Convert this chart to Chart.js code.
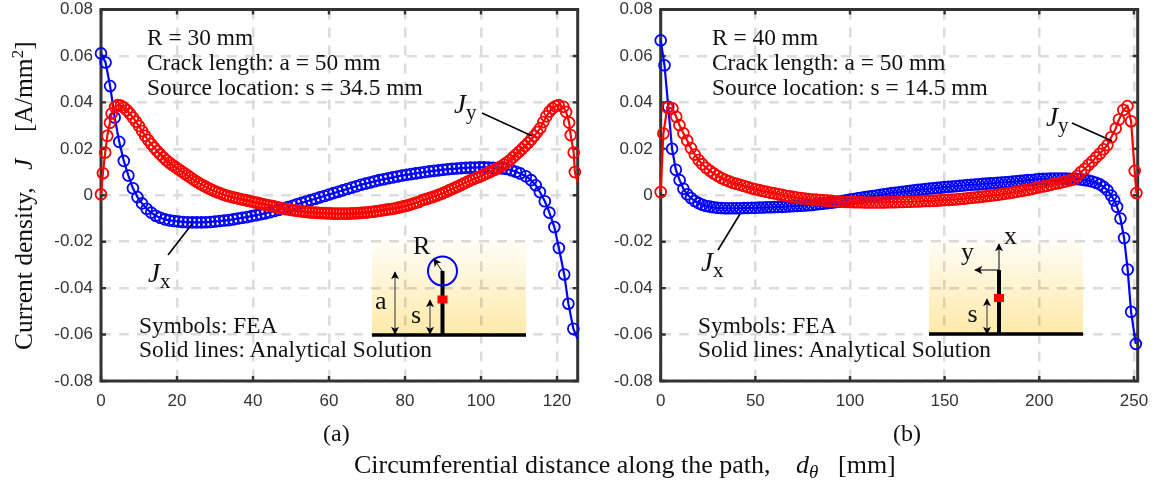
<!DOCTYPE html>
<html><head><meta charset="utf-8">
<script src="https://cdn.jsdelivr.net/npm/chart.js@4"></script>
<style>
html,body{margin:0;padding:0;background:#fff;width:1159px;height:483px;overflow:hidden}
canvas{position:absolute;top:0}
svg{position:absolute;left:0;top:0}
text{font-family:"Liberation Serif",serif;fill:#111}
</style></head><body>
<canvas id="ca" width="600" height="420" style="left:0"></canvas>
<canvas id="cb" width="579" height="420" style="left:580px"></canvas>
<svg width="1159" height="483" style="mix-blend-mode:multiply">
<defs><linearGradient id="g" x1="0" y1="0" x2="0" y2="1"><stop offset="0" stop-color="#fff"/><stop offset="1" stop-color="#fdeaa8"/></linearGradient></defs>
<rect x="372" y="232" width="154" height="103" fill="url(#g)"/>
<rect x="929" y="230" width="154" height="104" fill="url(#g)"/>
</svg>
<svg width="1159" height="483">
<defs>
<marker id="ah" viewBox="0 0 10 10" refX="9" refY="5" markerWidth="8" markerHeight="8" markerUnits="userSpaceOnUse" orient="auto-start-reverse"><path d="M0 0L10 5L0 10L2.5 5z" fill="#000"/></marker>
</defs>
<g font-size="23.4">
<text x="147" y="45">R = 30 mm</text>
<text x="147" y="70">Crack length: a = 50 mm</text>
<text x="147" y="95">Source location: s = 34.5 mm</text>
<text x="139" y="333">Symbols: FEA</text>
<text x="139" y="357">Solid lines: Analytical Solution</text>
<text x="712" y="45">R = 40 mm</text>
<text x="712" y="70">Crack length: a = 50 mm</text>
<text x="712" y="95">Source location: s = 14.5 mm</text>
<text x="698" y="333">Symbols: FEA</text>
<text x="698" y="357">Solid lines: Analytical Solution</text>
</g>
<g font-size="27">
<text x="454" y="113"><tspan font-style="italic">J</tspan><tspan font-size="21" dy="6">y</tspan></text>
<text x="148" y="282"><tspan font-style="italic">J</tspan><tspan font-size="21" dy="6">x</tspan></text>
<text x="701" y="271"><tspan font-style="italic">J</tspan><tspan font-size="21" dy="6">x</tspan></text>
<text x="1046" y="126"><tspan font-style="italic">J</tspan><tspan font-size="21" dy="6">y</tspan></text>
</g>
<g stroke="#000" stroke-width="1.6" fill="none">
<path d="M482 113L532 136"/><path d="M168 255L192 224"/><path d="M718 250L740 214"/><path d="M1072 123L1112 141"/>
</g>
<!-- inset a -->
<path d="M372 335H526" stroke="#000" stroke-width="3.5"/>
<path d="M442.5 335V271" stroke="#000" stroke-width="4"/>
<rect x="437.5" y="295.5" width="10" height="8" fill="#f00"/>
<circle cx="442.5" cy="271" r="14.5" fill="none" stroke="#00f" stroke-width="2"/>
<path d="M442 271L434 259" stroke="#000" stroke-width="1" marker-end="url(#ah)"/>
<path d="M395 272V334" stroke="#333" stroke-width="1" marker-start="url(#ah)" marker-end="url(#ah)"/>
<path d="M430 300V334" stroke="#333" stroke-width="1" marker-start="url(#ah)" marker-end="url(#ah)"/>
<g font-size="26">
<text x="413" y="254">R</text><text x="375" y="309">a</text><text x="411" y="322.5">s</text>
</g>
<!-- inset b -->
<path d="M929 334H1083" stroke="#000" stroke-width="3.5"/>
<path d="M999 334V270" stroke="#000" stroke-width="4"/>
<rect x="994" y="294" width="10" height="8" fill="#f00"/>
<path d="M999 270V244" stroke="#000" stroke-width="1" marker-end="url(#ah)"/>
<path d="M999 270H975" stroke="#000" stroke-width="1" marker-end="url(#ah)"/>
<path d="M987 299V334" stroke="#333" stroke-width="1" marker-start="url(#ah)" marker-end="url(#ah)"/>
<g font-size="26">
<text x="1004" y="244">x</text><text x="961" y="260">y</text><text x="967.5" y="322">s</text>
</g>
<!-- captions -->
<text font-size="24" x="323" y="441">(a)</text><text font-size="24" x="893" y="441">(b)</text>
<g font-size="26">
<text x="354" y="473">Circumferential distance along the path,<tspan x="796" font-style="italic">d</tspan><tspan font-style="italic" font-size="19" dy="5">θ</tspan><tspan x="838" dy="-5">[mm]</tspan></text>
</g>
<g font-size="25.5">
<text transform="translate(32,350) rotate(-90)">Current density,<tspan x="180" font-style="italic">J</tspan><tspan x="218">[A/mm</tspan><tspan font-size="17" dy="-9">2</tspan><tspan dy="9">]</tspan></text>
</g>
</svg>
<script>
// Panel (a): R = 30 mm
const aBlueX = [0,1.2,2.4,3.6,4.8,6,7.2,8.4,9.6,10.8,
 12,13.2,14.4,15.6,16.8,18,19.2,20.4,21.6,22.8,
 24,25.2,26.4,27.6,28.8,30,31.2,32.4,33.6,34.8,
 36,37.2,38.4,39.6,40.8,42,43.2,44.4,45.6,46.8,
 48,49.2,50.4,51.6,52.8,54,55.2,56.4,57.6,58.8,
 60,61.2,62.4,63.6,64.8,66,67.2,68.4,69.6,70.8,
 72,73.2,74.4,75.6,76.8,78,79.2,80.4,81.6,82.8,
 84,85.2,86.4,87.6,88.8,90,91.2,92.4,93.6,94.8,
 96,97.2,98.4,99.6,100.8,102,103.2,104.4,105.6,106.8,
 108,109.2,110.3,111.8,113.2,114.4,115.5,116.8,118,119.3,
 120.5,121.9,123,124.3];
const aBlueY = [.0611,.0572,.0470,.0335,.0230,.0148,.0085,.0030,-.0008,-.0035,
 -.0058,-.0075,-.0088,-.0097,-.0104,-.0108,-.0111,-.0113,-.0115,-.0116,
 -.0117,-.0117,-.0117,-.0116,-.0115,-.0113,-.0111,-.0109,-.0107,-.0104,
 -.0100,-.0097,-.0094,-.0090,-.0086,-.0082,-.0078,-.0073,-.0068,-.0063,
 -.0057,-.0051,-.0045,-.0039,-.0033,-.0027,-.0021,-.0015,-.0009,-.0003,
 .0003,.0009,.0015,.0021,.0027,.0033,.0039,.0045,.0050,.0055,
 .0060,.0065,.0069,.0073,.0077,.0081,.0085,.0088,.0091,.0094,
 .0097,.0100,.0103,.0105,.0107,.0110,.0112,.0114,.0115,.0117,
 .0118,.0119,.0119,.0120,.0120,.0119,.0118,.0117,.0115,.0113,
 .0108,.0101,.0094,.0082,.0065,.0043,.0014,-.0026,-.0075,-.0137,
 -.0227,-.0341,-.0467,-.0575];
const aRedX = [0,.5,1.1,1.65,2.35,2.8,3.7,
 4.4,5.2,6,6.8,7.6,8.4,9.2,10,10.8,11.6,
 12.4,13.2,14,14.8,15.6,16.4,17.2,18,18.8,19.6,
 20.4,21.2,22,22.8,23.6,24.4,25.2,26,26.8,27.6,
 28.4,29.2,30,30.8,31.6,32.4,33.2,34,34.8,35.6,
 36.4,37.2,38,38.8,39.6,40.4,41.2,42,42.8,43.6,
 44.4,45.2,46,46.8,47.6,48.4,49.2,50,50.8,51.6,
 52.4,53.2,54,54.8,55.6,56.4,57.2,58,58.8,59.6,
 60.4,61.2,62,62.8,63.6,64.4,65.2,66,66.8,67.6,
 68.4,69.2,70,70.8,71.6,72.4,73.2,74,74.8,75.6,
 76.4,77.2,78,78.8,79.6,80.4,81.2,82,82.8,83.6,
 84.4,85.2,86,86.8,87.6,88.4,89.2,90,90.8,91.6,
 92.4,93.2,94,94.8,95.6,96.4,97.2,98,98.8,99.6,
 100.4,101.2,102,102.8,103.6,104.4,105.2,106,106.8,107.6,
 108.4,109.2,110,110.8,111.6,112.4,113.2,114,114.8,115.6,
 116.4,117.2,118,118.8,119.6,120.4,
 121.7,122.4,123.2,123.6,124.4,124.7];
const aRedY = [.0004,.0095,.0184,.0256,.0312,.0352,.0380,
 .0388,.0386,.0378,.0366,.0352,.0335,.0317,.0298,.0277,.0256,
 .0238,.0221,.0205,.0190,.0176,.0163,.0151,.0140,.0130,.0121,
 .0112,.0103,.0094,.0085,.0076,.0067,.0058,.0050,.0043,.0036,
 .0029,.0023,.0017,.0012,.0007,.0002,-.0002,-.0006,-.0009,-.0012,
 -.0015,-.0018,-.0021,-.0024,-.0027,-.0030,-.0033,-.0036,-.0039,-.0042,
 -.0044,-.0047,-.0050,-.0053,-.0056,-.0059,-.0061,-.0063,-.0065,-.0067,
 -.0069,-.0070,-.0072,-.0073,-.0074,-.0075,-.0076,-.0077,-.0077,-.0078,
 -.0078,-.0079,-.0079,-.0079,-.0079,-.0079,-.0079,-.0078,-.0078,-.0077,
 -.0076,-.0075,-.0074,-.0072,-.0071,-.0069,-.0067,-.0065,-.0063,-.0061,
 -.0059,-.0057,-.0054,-.0051,-.0048,-.0045,-.0041,-.0037,-.0033,-.0029,
 -.0022,-.0018,-.0014,-.0010,-.0006,-.0001,.0004,.0009,.0015,.0021,
 .0027,.0033,.0039,.0045,.0052,.0058,.0064,.0070,.0075,.0080,
 .0086,.0092,.0098,.0104,.0110,.0116,.0124,.0132,.0141,.0151,
 .0163,.0175,.0187,.0199,.0212,.0225,.0240,.0255,.0272,.0289,
 .0315,.0340,.0360,.0374,.0383,.0388,
 .0381,.0359,.0313,.0259,.0184,.0100];
const aBlueLineEnd = [125.4,-.0618];
const aRedLineEnd = [125.4,.0057];
const aXTicks = [0,20,40,60,80,100,120];

// Panel (b): R = 40 mm
const bBlueX = [0,2,4,6,8,10,12,14,16,18,
 20,22,24,26,28,30,32,34,36,38,
 40,42,44,46,48,50,52,54,56,58,
 60,62,64,66,68,70,72,74,76,78,
 80,82,84,86,88,90,92,94,96,98,
 100,102,104,106,108,110,112,114,116,118,
 120,122,124,126,128,130,132,134,136,138,
 140,142,144,146,148,150,152,154,156,158,
 160,162,164,166,168,170,172,174,176,178,
 180,182,184,186,188,190,192,194,196,198,
 200,202,204,206,208,210,212,214,216,218,
 220,222,224,226,228,230,232,234,236,
 238,239.6,241.1,242.9,244.8,246.7,248.5,251];
const bBlueY = [.0667,.0560,.0381,.0200,.0110,.0065,.0028,.0004,-.0012,-.0025,
 -.0034,-.0041,-.0046,-.0049,-.0052,-.0054,-.0055,-.0056,-.0056,-.0056,
 -.0056,-.0056,-.0055,-.0055,-.0054,-.0054,-.0053,-.0053,-.0052,-.0052,
 -.0051,-.0050,-.0050,-.0049,-.0048,-.0047,-.0046,-.0045,-.0044,-.0043,
 -.0042,-.0040,-.0038,-.0036,-.0034,-.0032,-.0030,-.0028,-.0025,-.0022,
 -.0018,-.0016,-.0013,-.0011,-.0008,-.0006,-.0003,-.0001,.0002,.0004,
 .0006,.0009,.0011,.0013,.0015,.0017,.0019,.0021,.0023,.0025,
 .0027,.0029,.0030,.0032,.0033,.0035,.0036,.0038,.0039,.0041,
 .0042,.0044,.0045,.0046,.0047,.0049,.0050,.0051,.0052,.0054,
 .0055,.0056,.0057,.0059,.0060,.0062,.0063,.0065,.0066,.0068,
 .0070,.0071,.0071,.0072,.0072,.0072,.0072,.0072,.0071,.0071,
 .0070,.0068,.0065,.0063,.0059,.0054,.0047,.0036,.0022,
 -.0001,-.0022,-.0050,-.0100,-.0184,-.0320,-.0502,-.0640];
const bRedX = [0,1.4,3.5,6.2,8.2,9.9,
 12,14,16,18,
 20,22,24,26,28,30,32,34,36,38,
 40,42,44,46,48,50,52,54,56,58,
 60,62,64,66,68,70,72,74,76,78,
 80,82,84,86,88,90,92,94,96,98,
 100,102,104,106,108,110,112,114,116,118,
 120,122,124,126,128,130,132,134,136,138,
 140,142,144,146,148,150,152,154,156,158,
 160,162,164,166,168,170,172,174,176,178,
 180,182,184,186,188,190,192,194,196,198,
 200,202,204,206,208,210,212,214,216,218,
 220,222,224,226,228,230,232,234,236,
 238,240.4,242.1,244.4,246.6,248.5,250.4,251.3];
const bRedY = [.0014,.0266,.0378,.0374,.0338,.0302,
 .0267,.0236,.0203,.0175,
 .0152,.0134,.0118,.0105,.0094,.0084,.0074,.0067,.0060,.0054,
 .0049,.0045,.0040,.0035,.0030,.0026,.0022,.0018,.0015,.0011,
 .0008,.0005,.0002,-.0002,-.0005,-.0007,-.0010,-.0012,-.0014,-.0016,
 -.0018,-.0019,-.0021,-.0022,-.0023,-.0024,-.0026,-.0027,-.0028,-.0029,
 -.0029,-.0030,-.0030,-.0030,-.0031,-.0031,-.0031,-.0031,-.0031,-.0031,
 -.0030,-.0030,-.0030,-.0029,-.0029,-.0028,-.0028,-.0027,-.0027,-.0026,
 -.0025,-.0025,-.0024,-.0023,-.0022,-.0021,-.0020,-.0019,-.0018,-.0016,
 -.0015,-.0013,-.0011,-.0010,-.0008,-.0006,-.0004,-.0002,.0000,.0002,
 .0004,.0007,.0009,.0012,.0015,.0018,.0021,.0024,.0027,.0031,
 .0035,.0038,.0041,.0045,.0049,.0052,.0056,.0060,.0064,.0068,
 .0083,.0100,.0113,.0130,.0146,.0163,.0179,.0198,.0216,
 .0250,.0288,.0326,.0367,.0384,.0319,.0105,.0010];
const bXTicks = [0,50,100,150,200,250];
const yTicks = [-.08,-.06,-.04,-.02,0,.02,.04,.06,.08];

const BLUE='#0000ff', RED='#ff0000', INK='#333333', GRID='#dcdcdc';
const zip=(xs,ys)=>xs.map((x,i)=>({x,y:ys[i]}));
const frame={id:'frame',beforeDatasetsDraw(c){
  const {ctx,chartArea:a,scales:{x,y}}=c;
  ctx.save();ctx.strokeStyle=INK;ctx.lineWidth=2.4;ctx.setLineDash([]);ctx.beginPath();
  c.options.plugins.frame.xt.forEach(v=>{const p=x.getPixelForValue(v);ctx.moveTo(p,a.top);ctx.lineTo(p,a.top+5);ctx.moveTo(p,a.bottom);ctx.lineTo(p,a.bottom-5);});
  yTicks.forEach(v=>{const p=y.getPixelForValue(v);ctx.moveTo(a.left,p);ctx.lineTo(a.left+5,p);ctx.moveTo(a.right,p);ctx.lineTo(a.right-5,p);});
  ctx.stroke();
  ctx.lineWidth=3;ctx.strokeRect(a.left,a.top,a.right-a.left,a.bottom-a.top);
  ctx.restore();
}};
function panel(id,bx,by,rx,ry,bEnd,rEnd,xt,xmax,yW,rPad,r){
  const line=(d,c)=>({data:d,showLine:true,borderColor:c,borderWidth:2.2,pointRadius:0,clip:false,tension:0});
  const pts=(d,c)=>({data:d,showLine:false,borderColor:c,backgroundColor:'transparent',pointBorderWidth:1.8,pointRadius:r,clip:false});
  const bl=zip(bx,by), rd=zip(rx,ry);
  new Chart(document.getElementById(id),{type:'scatter',
   data:{datasets:[
     line(rEnd?rd.concat({x:rEnd[0],y:rEnd[1]}):rd,RED),pts(rd,RED),
     line(bEnd?bl.concat({x:bEnd[0],y:bEnd[1]}):bl,BLUE),pts(bl,BLUE)]},
   options:{responsive:false,animation:false,events:[],
    layout:{padding:{top:9.5,right:rPad,left:0,bottom:0},autoPadding:false},
    plugins:{legend:{display:false},tooltip:{enabled:false},title:{display:false},frame:{xt}},
    scales:{
     x:{type:'linear',min:0,max:xmax,afterFit(s){s.height=39;s.paddingLeft=0;s.paddingRight=0},
        afterBuildTicks(s){s.ticks=xt.map(v=>({value:v}))},
        ticks:{maxRotation:0,padding:10,color:INK,font:{family:'"Liberation Sans"',size:17},callback:v=>String(v)},
        grid:{color:GRID,lineWidth:2.5,drawTicks:false},border:{display:false,dash:[10,8]}},
     y:{type:'linear',min:-.08,max:.08,afterFit(s){s.width=yW;s.paddingTop=0;s.paddingBottom=0},
        afterBuildTicks(s){s.ticks=yTicks.map(v=>({value:v}))},
        ticks:{padding:8,color:INK,font:{family:'"Liberation Sans"',size:17},callback:v=>Math.abs(v)<1e-9?'0':v.toFixed(2)},
        grid:{color:GRID,lineWidth:2.5,drawTicks:false},border:{display:false,dash:[10,8]}}
    }},plugins:[frame]});
}
panel('ca',aBlueX,aBlueY,aRedX,aRedY,aBlueLineEnd,aRedLineEnd,aXTicks,125.45,101,22.3,5.4);
panel('cb',bBlueX,bBlueY,bRedX,bRedY,null,null,bXTicks,252,80.7,21.3,5.4);
</script>
</body></html>
